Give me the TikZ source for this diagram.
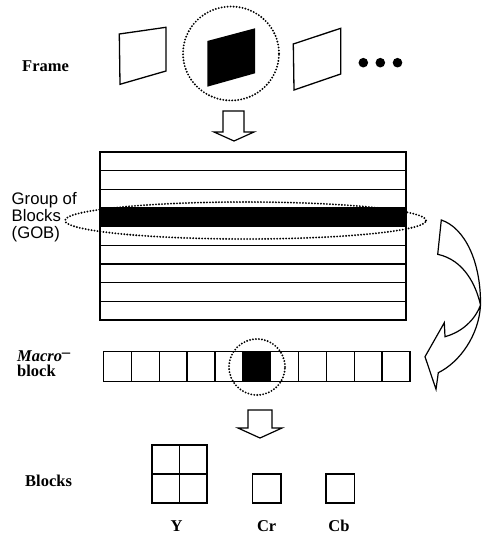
\documentclass[tikz,border=0pt]{standalone}
\usepackage{fontspec}
\setmainfont{Liberation Serif}
\setsansfont{Liberation Sans}
\begin{document}
\begin{tikzpicture}[x=1pt,y=-1pt,line join=miter]
\tikzset{
  outline/.style={draw=black,line width=1.3pt},
  dotring/.style={draw=black,line width=2.1pt,line cap=round,dash pattern=on 0pt off 3pt},
  lbl/.style={inner sep=0pt,anchor=base west,font=\bfseries\fontsize{16.5}{18}\selectfont},
  sanslbl/.style={inner sep=0pt,anchor=base west,font=\sffamily\fontsize{16.7}{18}\selectfont},
  caplbl/.style={inner sep=0pt,anchor=base,font=\bfseries\fontsize{16.5}{18}\selectfont},
  blockarrow/.style={draw=black,line width=1.2pt,fill=white},
}
\useasboundingbox (0,0) rectangle (482,534);

% --- Frame row
\node[lbl] (frame) at (22,72) {Frame};
\draw[outline] (119.3,34) -- (166,27.3) -- (166,71) -- (120,84.3) -- cycle;
\fill[black] (207.3,41) -- (255,28.3) -- (255,73.3) -- (207.3,86.7) -- cycle;
\draw[outline] (293.3,44) -- (340.7,28.3) -- (340.7,74) -- (294,90) -- cycle;
\fill[black] (363.3,62.7) circle[radius=4.8pt];
\fill[black] (380.3,62.7) circle[radius=4.8pt];
\fill[black] (397.5,62.7) circle[radius=4.8pt];
\draw[dotring] (231,53.5) ellipse[x radius=48pt,y radius=47pt];

% --- arrow 1
\draw[blockarrow] (223,111) -- (244,111) -- (244,132) -- (254,132) -- (234,141) -- (214,132) -- (223,132) -- cycle;

% --- GOB
\fill[black] (100,208) rectangle (406,226.7);
\draw[outline] (100,152) rectangle (406,320);
\foreach \k in {1,...,8} \draw[outline] (100,{152+\k*18.667}) -- (406,{152+\k*18.667});
\draw[dotring] (245.5,220.5) ellipse[x radius=180.5pt,y radius=18.5pt];
\node[sanslbl] (gob1) at (11.5,205) {Group of};
\node[sanslbl] (gob2) at (11.5,222) {Blocks};
\node[sanslbl] (gob3) at (11.5,238) {(GOB)};

% --- curved arrow
\draw[draw=black,line width=1.2pt]
  (441.3,220) .. controls (465,228) and (481,262) .. (480.5,305)
  .. controls (479,335) and (460,362) .. (438.3,372.7)
  -- (436,389.3) -- (425,356.7) -- (444.3,322.7) -- (445,336.7)
  .. controls (462,332) and (475,320) .. (480.5,305)
  .. controls (476,285) and (464,260) .. (437.7,254.3) -- cycle;

% --- Macroblock row
\node[inner sep=0pt,anchor=base west,font=\bfseries\itshape\fontsize{16.5}{18}\selectfont] (mb1) at (17,361.5) {Macro\raisebox{0.25em}{--}};
\node[lbl] (mb2) at (17,376.5) {block};
\fill[black] ({103.5+5*27.864},351.7) rectangle ({103.5+6*27.864},381.7);
\foreach \i in {0,...,10}
  \draw[outline] ({103.5+\i*27.864},351.7) rectangle ({103.5+(\i+1)*27.864},381.7);
\draw[dotring] (257,367) circle[radius=28pt];

% --- arrow 2
\draw[blockarrow] (248,410) -- (272,410) -- (272,428) -- (282,428) -- (260,438) -- (238,428) -- (248,428) -- cycle;

% --- Blocks
\node[lbl] (blocks) at (25,486.5) {Blocks};
\draw[outline] (152,445) rectangle (207,503);
\draw[outline] (179.5,445) -- (179.5,503);
\draw[outline] (152,474) -- (207,474);
\draw[outline] (252.3,474) rectangle (281,503);
\draw[outline] (326,474) rectangle (354.3,503);
\node[caplbl] (ylab) at (176.7,531.5) {Y};
\node[caplbl] (crlab) at (266.7,531.5) {Cr};
\node[caplbl] (cblab) at (339,531.5) {Cb};
\end{tikzpicture}
\end{document}
